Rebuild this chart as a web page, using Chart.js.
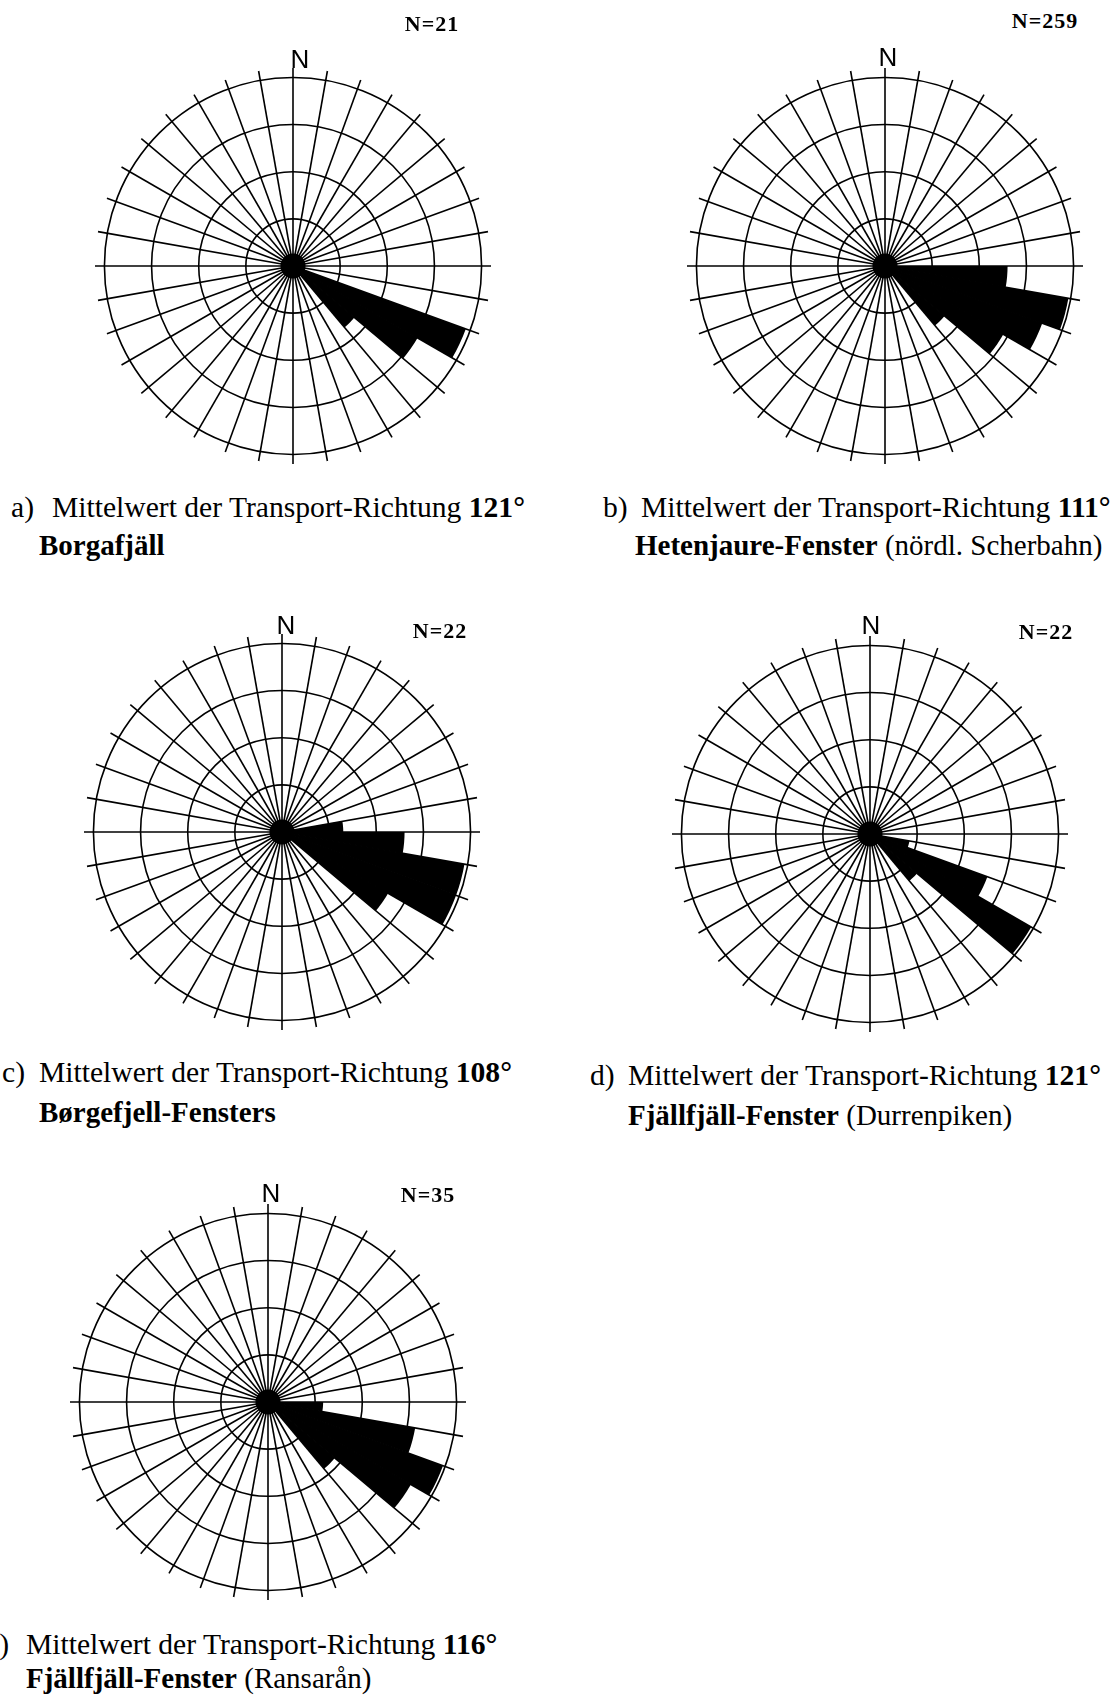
<!DOCTYPE html>
<html>
<head>
<meta charset="utf-8">
<script src="https://cdn.jsdelivr.net/npm/chart.js@4.4.0/dist/chart.umd.min.js"></script>
<style>
  html, body { margin: 0; padding: 0; background: #fff; }
  body { width: 1115px; height: 1697px; position: relative; overflow: hidden; color: #000;
         font-family: 'Liberation Serif', 'Times New Roman', serif; }
  canvas { position: absolute; }
  .north { position: absolute; font-family: 'Liberation Sans', Arial, sans-serif; font-size: 26px;
           line-height: 1; transform: translate(-50%, -50%); }
  .count { position: absolute; font-weight: bold; font-size: 22px; letter-spacing: 1px;
           line-height: 1; transform: translate(-50%, -50%); }
  .cap { position: absolute; font-size: 29px; line-height: 34px; white-space: nowrap; }
  .cap.first { font-size: 29.6px; }
</style>
</head>
<body>
<script>
// 10 degree direction classes, clockwise from north
var sectors = ['0°','10°','20°','30°','40°','50°','60°','70°','80°','90°','100°','110°',
               '120°','130°','140°','150°','160°','170°','180°','190°','200°','210°','220°','230°',
               '240°','250°','260°','270°','280°','290°','300°','310°','320°','330°','340°','350°'];

// class frequencies, in ring units (4 rings)
var borgafjall = [0,0,0,0,0,0,0,0,0,0,0,3.9,
                  3.05,1.7,0,0,0,0,0,0,0,0,0,0,
                  0,0,0,0,0,0,0,0,0,0,0,0];
var hetenjaure = [0,0,0,0,0,0,0,0,0,2.6,3.95,3.55,
                  2.9,1.65,0,0,0,0,0,0,0,0,0,0,
                  0,0,0,0,0,0,0,0,0,0,0,0];
var borgefjell = [0,0,0,0,0,0,0,0,1.3,2.6,3.93,3.93,
                  2.6,0,0,0,0,0,0,0,0,0,0,0,
                  0,0,0,0,0,0,0,0,0,0,0,0];
var durrenpiken = [0,0,0,0,0,0,0,0,0,0,0.85,2.65,
                   3.95,1.3,0,0,0,0,0,0,0,0,0,0,
                   0,0,0,0,0,0,0,0,0,0,0,0];
var ransaran = [0,0,0,0,0,0,0,0,0,1.17,3.17,3.95,
                3.5,1.85,0,0,0,0,0,0,0,0,0,0,
                0,0,0,0,0,0,0,0,0,0,0,0];

var sampleN = [21, 259, 22, 22, 35];
var capLetter = ['a)', 'b)', 'c)', 'd)', 'e)'];
var meanDir = ['121°', '111°', '108°', '121°', '116°'];
var siteName = ['Borgafjäll', 'Hetenjaure-Fenster', 'Børgefjell-Fensters', 'Fjällfjäll-Fenster', 'Fjällfjäll-Fenster'];
var siteNote = ['', '(nördl. Scherbahn)', '', '(Durrenpiken)', '(Ransarån)'];

// page layout of the five diagrams
var roses = [
  {data: borgafjall,  cx: 293, cy: 266,  nx: 300, ny: 59,   kx: 432,  ky: 24,
   lx: 11,  tx: 52,  y1: 507,  x2: 39,  y2: 545},
  {data: hetenjaure,  cx: 885, cy: 266,  nx: 888, ny: 57,   kx: 1045, ky: 21,
   lx: 603, tx: 641, y1: 507,  x2: 635, y2: 545},
  {data: borgefjell,  cx: 282, cy: 832,  nx: 286, ny: 625,  kx: 440,  ky: 631,
   lx: 2,   tx: 39,  y1: 1072, x2: 39,  y2: 1112},
  {data: durrenpiken, cx: 870, cy: 834,  nx: 871, ny: 625,  kx: 1046, ky: 632,
   lx: 590, tx: 628, y1: 1075, x2: 628, y2: 1115},
  {data: ransaran,    cx: 268, cy: 1402, nx: 271, ny: 1193, kx: 428,  ky: 1195,
   lx: -14, tx: 26,  y1: 1644, x2: 26,  y2: 1678}
];

var SIZE = 396;

// black hub where the rays meet
var hubDot = {
  id: 'hubDot',
  afterDatasetsDraw: function(chart) {
    var s = chart.scales.r, c = chart.ctx;
    c.save();
    c.beginPath();
    c.arc(s.xCenter, s.yCenter, 12.5, 0, 2 * Math.PI);
    c.fillStyle = '#000';
    c.fill();
    c.restore();
  }
};

function addText(cls, html, x, y) {
  var d = document.createElement('div');
  d.className = cls;
  d.innerHTML = html;
  d.style.left = x + 'px';
  d.style.top = y + 'px';
  document.body.appendChild(d);
}

roses.forEach(function(r, i) {
  var cv = document.createElement('canvas');
  cv.width = SIZE;
  cv.height = SIZE;
  cv.style.left = (r.cx - SIZE / 2) + 'px';
  cv.style.top = (r.cy - SIZE / 2) + 'px';
  document.body.appendChild(cv);

  new Chart(cv, {
    type: 'polarArea',
    data: {
      labels: sectors,
      datasets: [{
        data: r.data,
        backgroundColor: '#000',
        borderWidth: 0
      }]
    },
    options: {
      responsive: false,
      animation: false,
      layout: { padding: 0 },
      plugins: { legend: { display: false }, tooltip: { enabled: false } },
      scales: {
        r: {
          min: 0,
          max: 4.2,
          bounds: 'data',
          startAngle: 0,
          ticks: { display: false, stepSize: 1, includeBounds: false },
          grid: { circular: true, color: '#000', lineWidth: 1.6 },
          angleLines: { display: true, color: '#000', lineWidth: 1.6 },
          pointLabels: { display: false }
        }
      }
    },
    plugins: [hubDot]
  });

  addText('north', 'N', r.nx, r.ny);
  addText('count', 'N=' + sampleN[i], r.kx, r.ky);
  addText('cap first', capLetter[i], r.lx, r.y1 - 17);
  addText('cap first', 'Mittelwert der Transport-Richtung <b>' + meanDir[i] + '</b>', r.tx, r.y1 - 17);
  addText('cap', '<b>' + siteName[i] + '</b>' + (siteNote[i] ? ' ' + siteNote[i] : ''), r.x2, r.y2 - 17);
});
</script>
</body>
</html>
